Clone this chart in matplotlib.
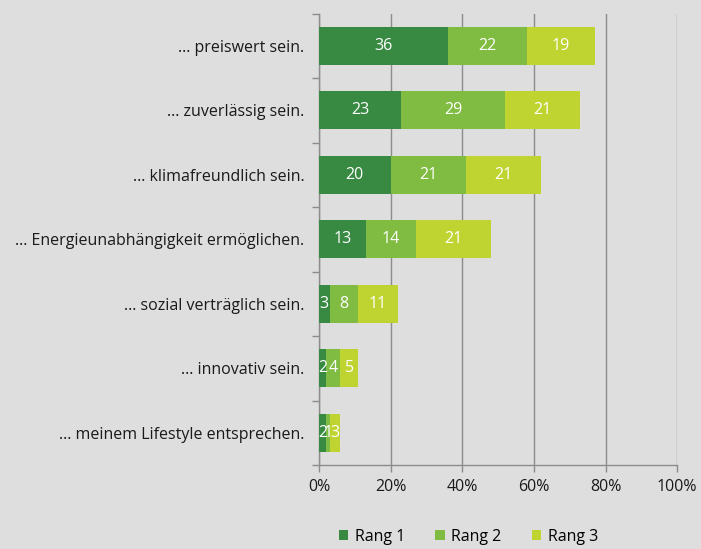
import matplotlib.pyplot as plt
import numpy as np
from matplotlib.patches import Patch

plt.rcParams["font.family"] = ["Open Sans", "DejaVu Sans"]

categories = [
    "... preiswert sein.",
    "... zuverlässig sein.",
    "... klimafreundlich sein.",
    "... Energieunabhängigkeit ermöglichen.",
    "... sozial verträglich sein.",
    "... innovativ sein.",
    "... meinem Lifestyle entsprechen.",
]
rang1 = [36, 23, 20, 13, 3, 2, 2]
rang2 = [22, 29, 21, 14, 8, 4, 1]
rang3 = [19, 21, 21, 21, 11, 5, 3]
series_names = ["Rang 1", "Rang 2", "Rang 3"]
colors = ["#388a43", "#80bc41", "#bfd430"]
xticks = [0, 20, 40, 60, 80, 100]

bg = "#dedede"
grid_c = "#8c8c8c"
fs = 11.5

fig = plt.figure(figsize=(7.01, 5.49), dpi=100, facecolor=bg)
ax = fig.add_axes([0.455, 0.153, 0.511, 0.822], facecolor=bg)

y = np.arange(len(categories))
left = np.zeros(len(categories))
for vals, col in zip([rang1, rang2, rang3], colors):
    vals = np.array(vals, dtype=float)
    ax.barh(y, vals, left=left, height=0.59, color=col, zorder=3)
    for yi, l, v in zip(y, left, vals):
        ax.text(l + v / 2, yi, f"{int(v)}", ha="center", va="center",
                color="white", fontsize=fs, zorder=4)
    left += vals

ax.set_ylim(len(categories) - 0.5, -0.5)
ax.set_xlim(0, 100)
ax.set_yticks(y)
ax.set_yticklabels(categories, fontsize=fs, color="#1a1a1a")
ax.set_yticks(np.arange(-0.5, len(categories)), minor=True)
ax.tick_params(axis="y", which="major", length=0, pad=10.5)
ax.tick_params(axis="y", which="minor", length=5, color=grid_c, width=1)

ax.set_xticks(xticks)
ax.set_xticklabels([f"{v}%" for v in xticks], fontsize=fs, color="#1a1a1a")
ax.tick_params(axis="x", length=5, color=grid_c, width=1, pad=5)
ax.xaxis.grid(True, color=grid_c, linewidth=1, zorder=0)

for s in ["top", "right"]:
    ax.spines[s].set_visible(False)
for s in ["left", "bottom"]:
    ax.spines[s].set_color(grid_c)
    ax.spines[s].set_linewidth(1)

handles = [Patch(facecolor=c, edgecolor="none") for c in colors]
fig.legend(handles, series_names, loc="lower center", ncol=3, frameon=False,
           fontsize=fs, bbox_to_anchor=(0.668, -0.018), handlelength=0.6,
           handleheight=0.6, handletextpad=0.4, columnspacing=1.9)

fig.savefig("out.png", dpi=100, facecolor=bg)
